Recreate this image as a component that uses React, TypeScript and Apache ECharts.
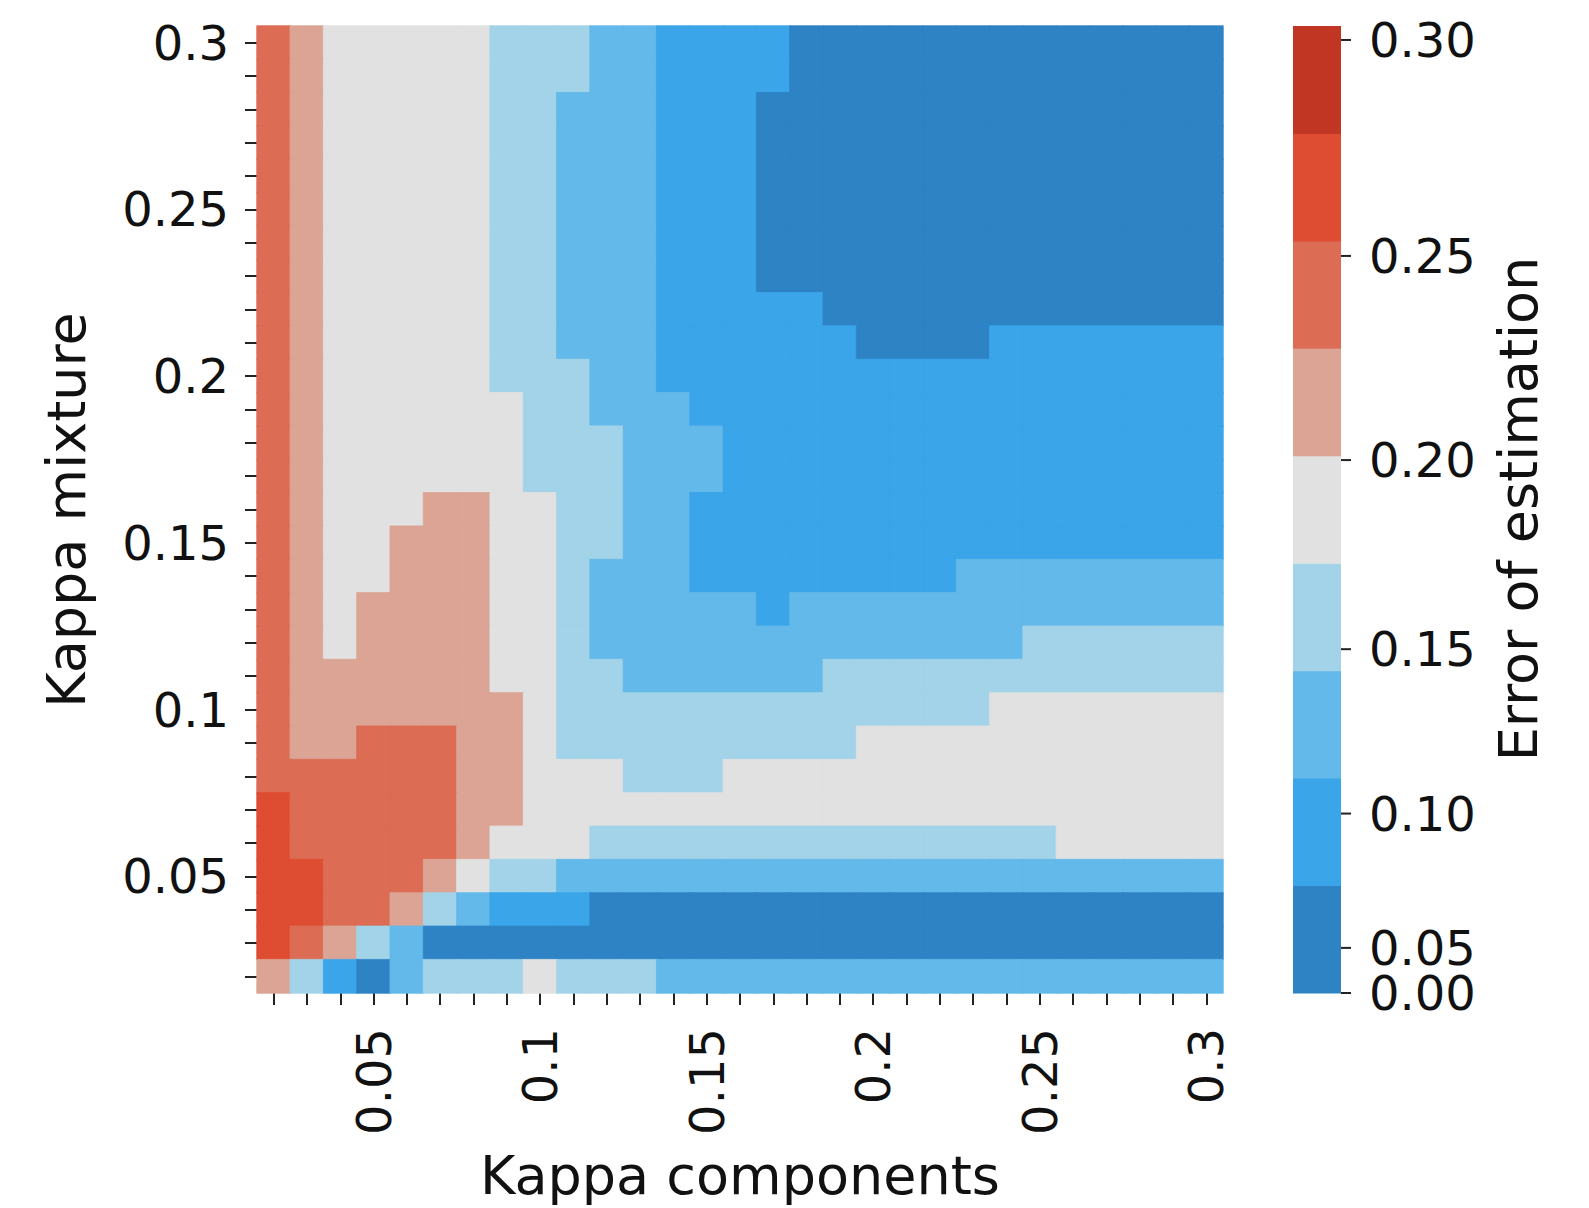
import React, { useEffect, useRef } from "react";
import * as echarts from "echarts";

// Kappa values for both axes (x: Kappa components, y: Kappa mixture)
const kappaValues = [
  "0.02", "0.03", "0.04", "0.05", "0.06", "0.07", "0.08", "0.09", "0.1", "0.11",
  "0.12", "0.13", "0.14", "0.15", "0.16", "0.17", "0.18", "0.19", "0.2", "0.21",
  "0.22", "0.23", "0.24", "0.25", "0.26", "0.27", "0.28", "0.29", "0.3",
];
const shownTickLabels = ["0.05", "0.1", "0.15", "0.2", "0.25", "0.3"];

// Discrete colour bins of the error of estimation (bottom to top of the colour bar)
const binColors = [
  "#2e83c5", "#3aa5e9", "#63b9e9", "#a2d3e8", "#e1e1e1",
  "#dba494", "#dc6c54", "#de4c32", "#c13523",
];

// Error bin per cell; rows from Kappa mixture 0.3 (top) down to 0.02 (bottom),
// columns Kappa components 0.02 .. 0.3
const errorBinRows = [
  "65444443332211110000000000000",
  "65444443332211110000000000000",
  "65444443322211100000000000000",
  "65444443322211100000000000000",
  "65444443322211100000000000000",
  "65444443322211100000000000000",
  "65444443322211100000000000000",
  "65444443322211100000000000000",
  "65444443322211111000000000000",
  "65444443322211111100001111111",
  "65444443332211111111111111111",
  "65444444332221111111111111111",
  "65444444333222111111111111111",
  "65444444333222111111111111111",
  "65444554433221111111111111111",
  "65445554433221111111111111111",
  "65445554432221111111122222222",
  "65455554432222212222222222222",
  "65455554432222222222222333333",
  "65555554433222222333333333333",
  "65555555433333333333334444444",
  "65566655433333333344444444444",
  "66666655444333444444444444444",
  "76666655444444444444444444444",
  "76666654443333333333333344444",
  "77666543322222222222222222222",
  "77665321110000000000000000000",
  "76532000000000000000000000000",
  "53102333433322222222222222222",
];

// Colour bar ticks: labels and their position measured in bin units
const colorbarTickLabels = ["0.00", "0.05", "0.10", "0.15", "0.20", "0.25", "0.30"];
const colorbarTickBinPos = [0, 0.42, 1.67, 3.2, 4.96, 6.86, 8.87];

const FONT = "DejaVu Sans";
const TEXT = "#111111";
const TICK = "#222222";

export default function App() {
  const ref = useRef<HTMLDivElement>(null);

  useEffect(() => {
    if (!ref.current) return;
    const chart = echarts.init(ref.current, null, { renderer: "svg" });
    const n = kappaValues.length;
    const data: any[] = [];
    errorBinRows.forEach((row, r) => {
      for (let c = 0; c < row.length; c++) {
        const bin = Number(row[c]);
        data.push({
          value: [c, n - 1 - r, bin],
          itemStyle: { borderColor: binColors[bin], borderWidth: 0.8 },
        });
      }
    });

    const catLabelInterval = (_i: number, v: string) => shownTickLabels.includes(v);
    const tickStyle = { color: TICK, width: 2 };

    const option: any = {
      animation: false,
      backgroundColor: "#ffffff",
      grid: [
        { left: 257, top: 26, width: 966, height: 967 },
        { left: 1293, top: 26, width: 48, height: 967 },
      ],
      xAxis: [
        {
          gridIndex: 0,
          type: "category",
          data: kappaValues,
          axisLine: { show: false },
          splitLine: { show: false },
          axisTick: { show: true, alignWithLabel: true, interval: 0, length: 12, lineStyle: tickStyle },
          axisLabel: {
            interval: catLabelInterval,
            rotate: 90,
            margin: 35,
            fontSize: 48,
            fontFamily: FONT,
            color: TEXT,
          },
        },
        { gridIndex: 1, type: "value", min: 0, max: 1, show: false },
      ],
      yAxis: [
        {
          gridIndex: 0,
          type: "category",
          data: kappaValues,
          axisLine: { show: false },
          splitLine: { show: false },
          axisTick: { show: true, alignWithLabel: true, interval: 0, length: 12, lineStyle: tickStyle },
          axisLabel: {
            interval: catLabelInterval,
            margin: 28,
            fontSize: 48,
            fontFamily: FONT,
            color: TEXT,
          },
        },
        {
          gridIndex: 1,
          type: "value",
          min: 0,
          max: binColors.length,
          position: "right",
          axisLine: { show: false },
          splitLine: { show: false },
          axisTick: { show: false },
          axisLabel: { show: false },
        },
      ],
      visualMap: {
        type: "piecewise",
        show: false,
        seriesIndex: 0,
        dimension: 2,
        pieces: binColors.map((color, i) => ({ value: i, color })),
      },
      series: [
        {
          type: "heatmap",
          xAxisIndex: 0,
          yAxisIndex: 0,
          data,
          emphasis: { disabled: true },
        },
        {
          type: "custom",
          xAxisIndex: 1,
          yAxisIndex: 1,
          clip: false,
          data: binColors.map((_c, i) => [0, i, i + 1]),
          encode: { x: 0, y: [1, 2] },
          renderItem: (_params: any, api: any) => {
            const lo = api.value(1);
            const hi = api.value(2);
            const p0 = api.coord([0, lo]);
            const p1 = api.coord([1, hi]);
            return {
              type: "rect",
              shape: { x: p0[0], y: p1[1], width: p1[0] - p0[0], height: p0[1] - p1[1] + 0.5 },
              style: { fill: binColors[lo] },
            };
          },
        },
        {
          type: "custom",
          xAxisIndex: 1,
          yAxisIndex: 1,
          clip: false,
          data: colorbarTickBinPos.map((p, i) => [1, p, i]),
          encode: { x: 0, y: 1 },
          renderItem: (_params: any, api: any) => {
            const pt = api.coord([1, api.value(1)]);
            const idx = api.value(2);
            return {
              type: "group",
              children: [
                {
                  type: "line",
                  shape: { x1: pt[0], y1: pt[1], x2: pt[0] + 10, y2: pt[1] },
                  style: { stroke: TICK, lineWidth: 2 },
                },
                {
                  type: "text",
                  x: pt[0] + 28,
                  y: pt[1],
                  style: {
                    text: colorbarTickLabels[idx],
                    fontSize: 48,
                    lineHeight: 36,
                    fontFamily: FONT,
                    fill: TEXT,
                    align: "left",
                    verticalAlign: "middle",
                    textAlign: "left",
                    textVerticalAlign: "middle",
                  },
                },
              ],
            };
          },
        },
      ],
      graphic: [
        {
          type: "text",
          x: 66,
          y: 510,
          rotation: Math.PI / 2,
          style: {
            text: "Kappa mixture",
            fontSize: 54,
            fontFamily: FONT,
            fill: TEXT,
            align: "center",
            verticalAlign: "middle",
            textAlign: "center",
            textVerticalAlign: "middle",
          },
        },
        {
          type: "text",
          x: 740,
          y: 1175,
          style: {
            text: "Kappa components",
            fontSize: 54,
            fontFamily: FONT,
            fill: TEXT,
            align: "center",
            verticalAlign: "middle",
            textAlign: "center",
            textVerticalAlign: "middle",
          },
        },
        {
          type: "text",
          x: 1518,
          y: 509,
          rotation: Math.PI / 2,
          style: {
            text: "Error of estimation",
            fontSize: 54,
            fontFamily: FONT,
            fill: TEXT,
            align: "center",
            verticalAlign: "middle",
            textAlign: "center",
            textVerticalAlign: "middle",
          },
        },
      ],
    };

    chart.setOption(option);
    return () => chart.dispose();
  }, []);

  return (
    <div
      ref={ref}
      style={{ position: "fixed", left: 0, top: 0, width: 1589, height: 1208, background: "#fff" }}
    />
  );
}
